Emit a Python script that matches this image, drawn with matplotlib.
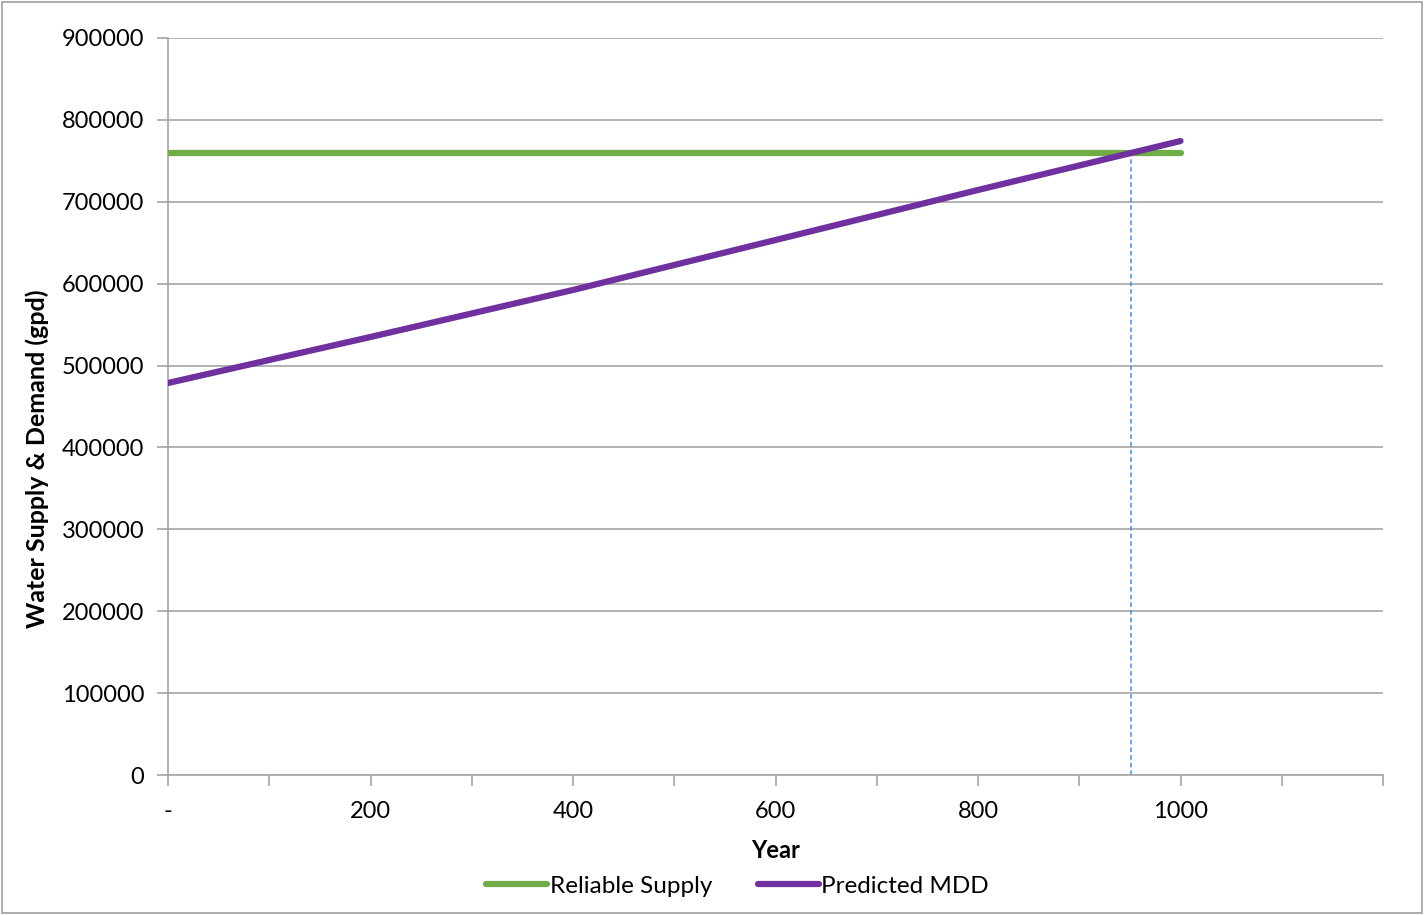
import matplotlib
matplotlib.use("Agg")
import matplotlib.pyplot as plt
from matplotlib.patches import Rectangle

plt.rcParams['font.family'] = ['Lato', 'DejaVu Sans']

# Data
years = [0, 200, 400, 600, 800, 1000]
reliable_supply = [760000, 760000, 760000, 760000, 760000, 760000]
predicted_mdd = [478700, 534900, 592300, 653300, 714400, 774200]
crossover_year = 951
crossover_value = 760000

x_tick_values = [0, 200, 400, 600, 800, 1000]
x_tick_labels = ['-', '200', '400', '600', '800', '1000']
y_ticks = list(range(0, 900001, 100000))

GREEN = '#70ad47'
PURPLE = '#7030a0'
GRID = '#a6a6a6'
FS = 17

fig = plt.figure(figsize=(14.24, 9.15), dpi=100)
ax = fig.add_axes([168 / 1424, 1 - 775 / 915, (1383 - 168) / 1424, (775 - 38) / 915])

ax.plot(years, reliable_supply, color=GREEN, lw=4.5, solid_capstyle='round',
        label='Reliable Supply', zorder=3)
ax.plot(years, predicted_mdd, color=PURPLE, lw=4.5, solid_capstyle='round',
        label='Predicted MDD', zorder=4)
ax.plot([crossover_year, crossover_year], [0, crossover_value], color='#3d8fe0',
        lw=1.1, ls=(0, (3, 2)), zorder=2)

ax.set_xlim(0, 1200)
ax.set_ylim(0, 900000)
ax.set_yticks(y_ticks)
ax.set_yticklabels([str(v) for v in y_ticks], fontsize=FS)
ax.set_xticks(range(0, 1201, 100))
ax.set_xticklabels(['' if v not in x_tick_values else x_tick_labels[x_tick_values.index(v)]
                    for v in range(0, 1201, 100)], fontsize=FS)

ax.grid(axis='y', color=GRID, lw=1.2, zorder=0)
for side in ['top', 'right']:
    ax.spines[side].set_visible(False)
for side in ['left', 'bottom']:
    ax.spines[side].set_color(GRID)
    ax.spines[side].set_linewidth(1.2)
ax.tick_params(axis='y', length=8, color=GRID, width=1.2, pad=9)
ax.tick_params(axis='x', length=8, color=GRID, width=1.2, pad=11)

ax.set_xlabel('Year', fontsize=FS, fontweight='bold', labelpad=12)
ax.set_ylabel('Water Supply & Demand (gpd)', fontsize=18, fontweight='bold',
              va='center', ha='center')
ax.yaxis.set_label_coords(-0.108, 0.429)

leg = fig.legend(loc='center', bbox_to_anchor=(0.518, 1 - 886 / 915), ncol=2,
                 frameon=False, fontsize=FS + 0.5, handlelength=2.5, handletextpad=0.1,
                 columnspacing=1.9)

fig.patches.append(Rectangle((2 / 1424, 2 / 915), 1420 / 1424, 911 / 915,
                             transform=fig.transFigure, fill=False,
                             edgecolor='#a0a0a0', lw=1.2))

fig.savefig('out.png', dpi=100, facecolor='white')
